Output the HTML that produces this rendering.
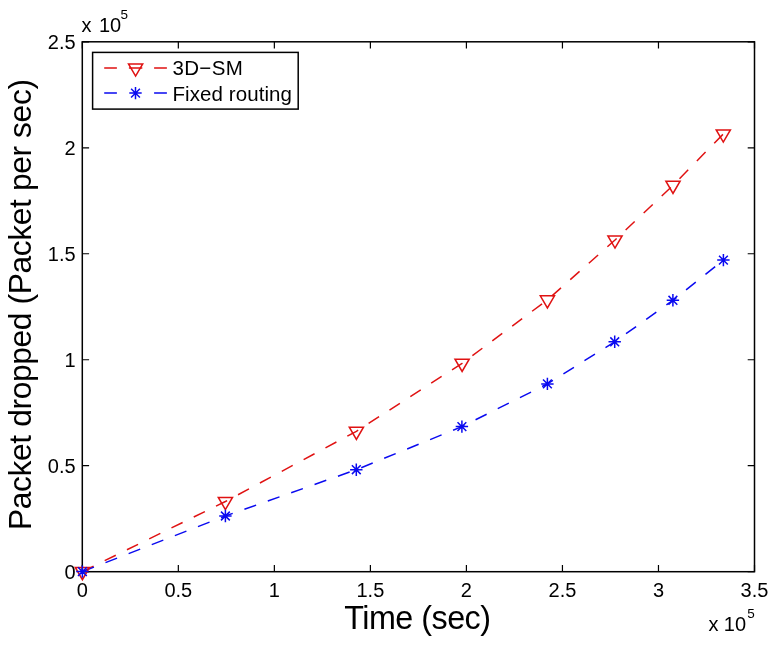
<!DOCTYPE html><html><head><meta charset="utf-8"><style>html,body{margin:0;padding:0;background:#fff;width:775px;height:647px;overflow:hidden}svg{display:block}text{font-family:"Liberation Sans",Arial,Helvetica,sans-serif;fill:#000}</style></head><body>
<svg width="775" height="647" viewBox="0 0 775 647">
<rect width="775" height="647" fill="#fff"/>
<rect x="82.3" y="41.8" width="672.20" height="529.90" fill="none" stroke="#000" stroke-width="1.5"/>
<path d="M82.30 571.7V564.90M82.30 41.8V48.60M178.33 571.7V564.90M178.33 41.8V48.60M274.36 571.7V564.90M274.36 41.8V48.60M370.39 571.7V564.90M370.39 41.8V48.60M466.41 571.7V564.90M466.41 41.8V48.60M562.44 571.7V564.90M562.44 41.8V48.60M658.47 571.7V564.90M658.47 41.8V48.60M754.50 571.7V564.90M754.50 41.8V48.60M82.3 571.70H89.10M754.5 571.70H747.70M82.3 465.72H89.10M754.5 465.72H747.70M82.3 359.74H89.10M754.5 359.74H747.70M82.3 253.76H89.10M754.5 253.76H747.70M82.3 147.78H89.10M754.5 147.78H747.70M82.3 41.80H89.10M754.5 41.80H747.70" stroke="#000" stroke-width="1.2" fill="none"/>
<polyline points="82.4,571.6 225.4,501.5 356.4,431.3 462.1,363.3 547.4,299.9 615.0,240.0 673.0,185.3 723.3,134.0" fill="none" stroke="#e01212" stroke-width="1.5" stroke-dasharray="12.4 12.4"/>
<polyline points="82.4,571.6 225.4,516.0 356.3,469.7 461.9,426.6 547.4,383.9 614.7,341.8 672.9,300.3 723.4,260.1" fill="none" stroke="#0a0af0" stroke-width="1.5" stroke-dasharray="12.4 12.4"/>
<path d="M75.30 567.50H89.50L82.40 579.70ZM218.30 497.40H232.50L225.40 509.60ZM349.30 427.20H363.50L356.40 439.40ZM455.00 359.20H469.20L462.10 371.40ZM540.30 295.80H554.50L547.40 308.00ZM607.90 235.90H622.10L615.00 248.10ZM665.90 181.20H680.10L673.00 193.40ZM716.20 129.90H730.40L723.30 142.10Z" fill="none" stroke="#e01212" stroke-width="1.5" stroke-linejoin="miter"/>
<path d="M76.20 571.60H88.60M82.40 565.40V577.80M78.00 567.20L86.80 576.00M78.00 576.00L86.80 567.20M219.20 516.00H231.60M225.40 509.80V522.20M221.00 511.60L229.80 520.40M221.00 520.40L229.80 511.60M350.10 469.70H362.50M356.30 463.50V475.90M351.90 465.30L360.70 474.10M351.90 474.10L360.70 465.30M455.70 426.60H468.10M461.90 420.40V432.80M457.50 422.20L466.30 431.00M457.50 431.00L466.30 422.20M541.20 383.90H553.60M547.40 377.70V390.10M543.00 379.50L551.80 388.30M543.00 388.30L551.80 379.50M608.50 341.80H620.90M614.70 335.60V348.00M610.30 337.40L619.10 346.20M610.30 346.20L619.10 337.40M666.70 300.30H679.10M672.90 294.10V306.50M668.50 295.90L677.30 304.70M668.50 304.70L677.30 295.90M717.20 260.10H729.60M723.40 253.90V266.30M719.00 255.70L727.80 264.50M719.00 264.50L727.80 255.70" fill="none" stroke="#0a0af0" stroke-width="1.5"/>
<text x="82.30" y="596.8" font-size="20" text-anchor="middle">0</text>
<text x="178.33" y="596.8" font-size="20" text-anchor="middle">0.5</text>
<text x="274.36" y="596.8" font-size="20" text-anchor="middle">1</text>
<text x="370.39" y="596.8" font-size="20" text-anchor="middle">1.5</text>
<text x="466.41" y="596.8" font-size="20" text-anchor="middle">2</text>
<text x="562.44" y="596.8" font-size="20" text-anchor="middle">2.5</text>
<text x="658.47" y="596.8" font-size="20" text-anchor="middle">3</text>
<text x="754.50" y="596.8" font-size="20" text-anchor="middle">3.5</text>
<text x="75.6" y="579.20" font-size="20" text-anchor="end">0</text>
<text x="75.6" y="473.22" font-size="20" text-anchor="end">0.5</text>
<text x="75.6" y="367.24" font-size="20" text-anchor="end">1</text>
<text x="75.6" y="261.26" font-size="20" text-anchor="end">1.5</text>
<text x="75.6" y="155.28" font-size="20" text-anchor="end">2</text>
<text x="75.6" y="49.30" font-size="20" text-anchor="end">2.5</text>
<text x="81.6" y="32.1" font-size="20">x</text><text x="99" y="32.1" font-size="20">10</text><text x="120.6" y="19.0" font-size="13.5">5</text>
<text x="708.5" y="631.4" font-size="20">x</text><text x="723.8" y="631.4" font-size="20">10</text><text x="747.3" y="618.4" font-size="13.5">5</text>
<text x="344.2" y="629" font-size="32.3" textLength="146.8" lengthAdjust="spacing">Time (sec)</text>
<text transform="translate(31,526.6) rotate(-90)" x="-3.4" y="0" font-size="31.8" textLength="451" lengthAdjust="spacing">Packet dropped (Packet per sec)</text>
<rect x="92.6" y="52.4" width="205.6" height="56.7" fill="#fff" stroke="#000" stroke-width="1.5"/>
<path d="M104.2 68H116.9M128.9 68H142.3M154.1 68H166.9" stroke="#e01212" stroke-width="1.5"/>
<path d="M128.50 63.90H142.70L135.60 76.10Z" fill="none" stroke="#e01212" stroke-width="1.5"/>
<path d="M104.2 93.1H116.9M154.1 93.1H166.9" stroke="#0a0af0" stroke-width="1.5"/>
<path d="M129.30 93.10H141.70M135.50 86.90V99.30M131.10 88.70L139.90 97.50M131.10 97.50L139.90 88.70" fill="none" stroke="#0a0af0" stroke-width="1.5"/>
<text x="172.4" y="75.3" font-size="20.5" textLength="70.4" lengthAdjust="spacing">3D−SM</text>
<text x="172.4" y="100.5" font-size="20.5" textLength="119.6" lengthAdjust="spacing">Fixed routing</text>
</svg></body></html>
